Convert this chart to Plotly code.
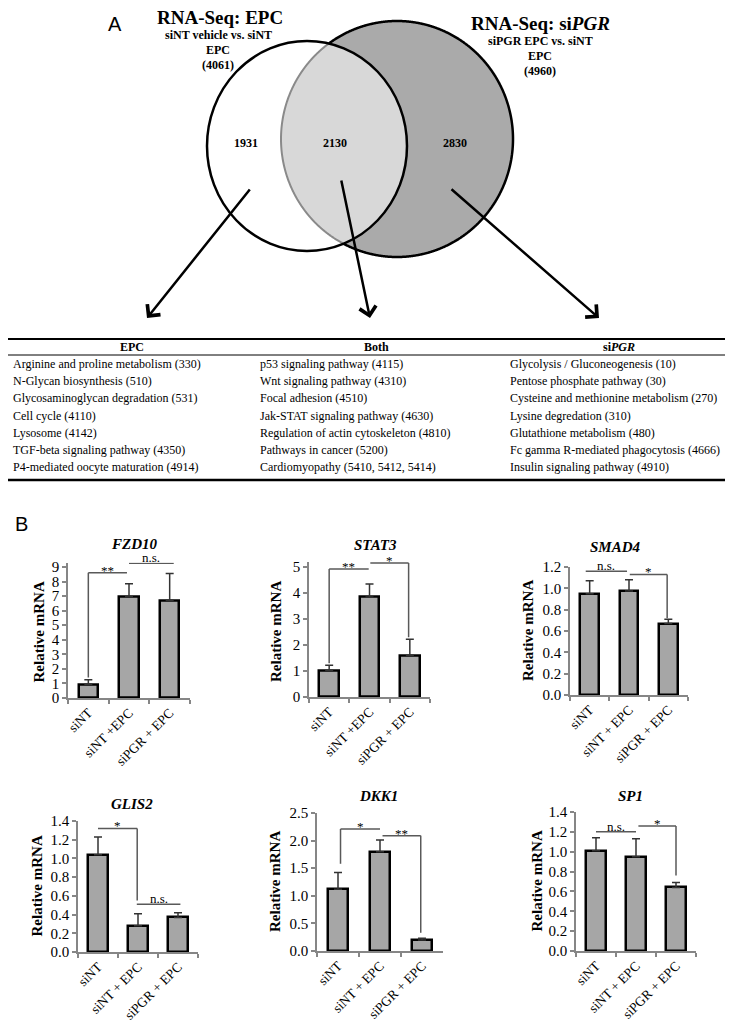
import numpy as np
import plotly.graph_objects as go

W, H = 733, 1021
SERIF = "Liberation Serif, Times New Roman, Times, serif"
SANS = "Liberation Sans, Arial, sans-serif"

# ---------------- data ----------------
venn_labels = ["1931", "2130", "2830"]          # EPC only, both, siPGR only
venn_totals = ["(4061)", "(4960)"]

table_headers = ["<b>EPC</b>", "<b>Both</b>", "<b>si<i>PGR</i></b>"]
pathways_epc = [
    "Arginine and proline metabolism (330)",
    "N-Glycan biosynthesis (510)",
    "Glycosaminoglycan degradation (531)",
    "Cell cycle (4110)",
    "Lysosome (4142)",
    "TGF-beta signaling pathway (4350)",
    "P4-mediated oocyte maturation (4914)",
]
pathways_both = [
    "p53 signaling pathway (4115)",
    "Wnt signaling pathway (4310)",
    "Focal adhesion (4510)",
    "Jak-STAT signaling pathway (4630)",
    "Regulation of actin cytoskeleton (4810)",
    "Pathways in cancer (5200)",
    "Cardiomyopathy (5410, 5412, 5414)",
]
pathways_sipgr = [
    "Glycolysis / Gluconeogenesis (10)",
    "Pentose phosphate pathway (30)",
    "Cysteine and methionine metabolism (270)",
    "Lysine degredation (310)",
    "Glutathione metabolism (480)",
    "Fc gamma R-mediated phagocytosis (4666)",
    "Insulin signaling pathway (4910)",
]

groups_a = ["siNT", "siNT +EPC", "siPGR + EPC"]
groups_b = ["siNT", "siNT + EPC", "siPGR + EPC"]

fzd10_mean = [0.95, 6.95, 6.70]
fzd10_err = [0.30, 0.90, 1.85]
stat3_mean = [1.02, 3.85, 1.60]
stat3_err = [0.20, 0.50, 0.62]
smad4_mean = [0.95, 0.975, 0.67]
smad4_err = [0.12, 0.105, 0.04]
glis2_mean = [1.04, 0.28, 0.37]
glis2_err = [0.19, 0.13, 0.05]
dkk1_mean = [1.12, 1.80, 0.20]
dkk1_err = [0.30, 0.21, 0.03]
sp1_mean = [1.01, 0.95, 0.64]
sp1_err = [0.13, 0.18, 0.05]

# significance brackets: (label, x start, x end, height, left drop to, right drop to)
fzd10_sig = [("**", 0.0, 0.95, 8.6, 1.4, None), ("n.s.", 1.0, 2.1, 9.25, None, None)]
stat3_sig = [("**", 0.0, 0.98, 4.92, 1.3, None), ("*", 1.02, 1.97, 5.15, None, 2.3)]
smad4_sig = [("n.s.", -0.1, 0.95, 1.16, None, None), ("*", 1.02, 1.97, 1.13, None, 0.72)]
glis2_sig = [("*", 0.0, 0.98, 1.32, None, 0.55), ("n.s.", 0.97, 2.06, 0.51, None, None)]
dkk1_sig = [("*", 0.06, 1.0, 2.21, 1.58, None), ("**", 1.06, 1.97, 2.09, None, 0.33)]
sp1_sig = [("n.s.", 0.0, 1.0, 1.20, None, None), ("*", 1.06, 2.0, 1.26, None, 0.76)]


def px(x):
    return x / W


def py(y):
    return 1 - y / H


fig = go.Figure()
shapes = []
ann = []

# ---------------- Venn diagram ----------------
L = dict(cx=299, cy=138, rx=100, ry=105)
R = dict(cx=389, cy=131, rx=116, ry=118)
t = np.linspace(0, 2 * np.pi, 1441)
xr = R["cx"] + R["rx"] * np.cos(t)
yr = R["cy"] + R["ry"] * np.sin(t)
xl = L["cx"] + L["rx"] * np.cos(t)
yl = L["cy"] + L["ry"] * np.sin(t)
r_in_l = ((xr - L["cx"]) / L["rx"]) ** 2 + ((yr - L["cy"]) / L["ry"]) ** 2 < 1
l_in_r = ((xl - R["cx"]) / R["rx"]) ** 2 + ((yl - R["cy"]) / R["ry"]) ** 2 < 1

lx = np.concatenate([xr[r_in_l], xl[l_in_r]])
ly = np.concatenate([yr[r_in_l], yl[l_in_r]])
ang = np.arctan2(ly - ly.mean(), lx - lx.mean())
o = np.argsort(ang)
lx, ly = lx[o], ly[o]


def poly_path(xs, ys, close=False):
    s = "M" + " L".join(f"{px(a):.5f},{py(b):.5f}" for a, b in zip(xs, ys))
    return s + (" Z" if close else "")


def ell_shape(e, **kw):
    return dict(type="circle", xref="paper", yref="paper",
                x0=px(e["cx"] - e["rx"]), x1=px(e["cx"] + e["rx"]),
                y0=py(e["cy"] + e["ry"]), y1=py(e["cy"] - e["ry"]), **kw)


shapes.append(ell_shape(R, fillcolor="#aaaaaa", line=dict(width=0)))
shapes.append(dict(type="path", xref="paper", yref="paper", path=poly_path(lx, ly, True),
                   fillcolor="#d8d8d8", line=dict(width=0)))
idx_in = np.where(r_in_l)[0]
i1, i2 = idx_in[0], idx_in[-1]
outer = poly_path(xr[: i1 + 1], yr[: i1 + 1]) + " " + poly_path(xr[i2:], yr[i2:])
shapes.append(dict(type="path", xref="paper", yref="paper", path=outer,
                   line=dict(color="black", width=2.5)))
shapes.append(dict(type="path", xref="paper", yref="paper",
                   path=poly_path(xr[i1:i2 + 1], yr[i1:i2 + 1]),
                   line=dict(color="#8a8a8a", width=2)))
shapes.append(ell_shape(L, fillcolor="rgba(0,0,0,0)", line=dict(color="black", width=2.5)))


def text(x, y, s, size=12, family=SERIF, xanchor="center", yanchor="middle", **kw):
    ann.append(dict(x=px(x), y=py(y), xref="paper", yref="paper", text=s, showarrow=False,
                    xanchor=xanchor, yanchor=yanchor,
                    font=dict(family=family, size=size, color="black"), **kw))


text(107, 16, "A", size=20, family=SANS)
text(212, 10, "<b>RNA-Seq: EPC</b>", size=19)
text(210, 27, "<b>siNT vehicle vs. siNT</b>", size=12)
text(210, 42, "<b>EPC</b>", size=12)
text(210, 57, "<b>" + venn_totals[0] + "</b>", size=12)
text(532, 16, "<b>RNA-Seq: si<i>PGR</i></b>", size=19)
text(532, 33, "<b>siPGR EPC vs. siNT</b>", size=12)
text(532, 48, "<b>EPC</b>", size=12)
text(532, 63, "<b>" + venn_totals[1] + "</b>", size=12)
for xx, lab in zip([238, 327, 447], venn_labels):
    text(xx, 135, "<b>" + lab + "</b>", size=12)

# arrows (tail -> head)
for (sx, sy), (hx, hy) in [((243, 180), (139, 310)), ((333, 171), (362, 310)), ((442, 180), (591, 310))]:
    ann.append(dict(x=px(hx), y=py(hy), xref="paper", yref="paper", text="", showarrow=True,
                    ax=sx - hx, ay=sy - hy, arrowhead=4, arrowsize=1.3, arrowwidth=2.5,
                    arrowcolor="black", standoff=0))

# ---------------- table ----------------
shapes.append(dict(type="line", xref="paper", yref="paper", x0=0, x1=1, y0=py(331), y1=py(331),
                   line=dict(color="black", width=2.2)))
shapes.append(dict(type="line", xref="paper", yref="paper", x0=0, x1=1, y0=py(347), y1=py(347),
                   line=dict(color="black", width=1)))
shapes.append(dict(type="line", xref="paper", yref="paper", x0=0, x1=1, y0=py(472), y1=py(472),
                   line=dict(color="black", width=2.5)))
for xx, h in zip([124, 368, 611], table_headers):
    text(xx, 339.5, h, size=12)
for col_x, col in zip([3, 250, 500], [pathways_epc, pathways_both, pathways_sipgr]):
    for k, s in enumerate(col):
        text(col_x, 356 + 17.2 * k, s, size=12, xanchor="left")

text(13, 516, "B", size=20, family=SANS)

# ---------------- bar panels ----------------
panels = [
    dict(name="FZD10", cats=groups_a, mean=fzd10_mean, err=fzd10_err, sig=fzd10_sig,
         box=(60, 182, 690, 559), tmax=9, dtick=1, fmt="d", rtop=9.3, title=(126, 536), ylab=30),
    dict(name="STAT3", cats=groups_a, mean=stat3_mean, err=stat3_err, sig=stat3_sig,
         box=(301, 422, 689, 559), tmax=5, dtick=1, fmt="d", rtop=5.2, title=(367, 537), ylab=268),
    dict(name="SMAD4", cats=groups_b, mean=smad4_mean, err=smad4_err, sig=smad4_sig,
         box=(562, 680, 687, 559), tmax=1.2, dtick=0.2, fmt=".1f", rtop=1.2, title=(607, 539), ylab=520),
    dict(name="GLIS2", cats=groups_b, mean=glis2_mean, err=glis2_err, sig=glis2_sig,
         box=(70, 190, 944, 813), tmax=1.4, dtick=0.2, fmt=".1f", rtop=1.4, title=(124, 796), ylab=28),
    dict(name="DKK1", cats=groups_b, mean=dkk1_mean, err=dkk1_err, sig=dkk1_sig,
         box=(309, 435, 943, 805), tmax=2.5, dtick=0.5, fmt=".1f", rtop=2.5, title=(370, 788), ylab=267),
    dict(name="SP1", cats=groups_b, mean=sp1_mean, err=sp1_err, sig=sp1_sig,
         box=(568, 688, 943, 804), tmax=1.4, dtick=0.2, fmt=".1f", rtop=1.4, title=(622, 788), ylab=528),
]

AX_COL = "#868686"
layout_axes = {}
for i, p in enumerate(panels, start=1):
    xn = "x" if i == 1 else f"x{i}"
    yn = "y" if i == 1 else f"y{i}"
    left, right, y0, ymx = p["box"]
    ppu = (y0 - ymx) / p["tmax"]
    ytop = y0 - p["rtop"] * ppu
    fig.add_trace(go.Bar(
        x=p["cats"], y=p["mean"], xaxis=xn, yaxis=yn, width=0.48, showlegend=False,
        marker=dict(color="#a6a6a6", line=dict(color="black", width=2.5)),
        error_y=dict(type="data", symmetric=False, array=p["err"], arrayminus=[0, 0, 0],
                     color="#333333", thickness=1.5, width=4),
    ))
    layout_axes["xaxis" if i == 1 else f"xaxis{i}"] = dict(
        domain=[px(left), px(right)], anchor=yn, type="category", range=[-0.5, 2.5],
        showline=True, linecolor=AX_COL, linewidth=1.5, ticks="outside", ticklen=4,
        tickwidth=1.5, tickcolor=AX_COL, tickson="boundaries", tickangle=-45,
        tickfont=dict(family=SERIF, size=13.5, color="black"), showgrid=False, zeroline=False)
    layout_axes["yaxis" if i == 1 else f"yaxis{i}"] = dict(
        domain=[py(y0), py(ytop)], anchor=xn, range=[0, p["rtop"]], tickmode="linear",
        tick0=0, dtick=p["dtick"], tickformat=p["fmt"], showline=True, linecolor=AX_COL,
        linewidth=1.5, ticks="outside", ticklen=4, tickwidth=1.5, tickcolor=AX_COL,
        tickfont=dict(family=SERIF, size=15, color="black"), showgrid=False, zeroline=False)
    # titles
    text(p["title"][0], p["title"][1], f"<b><i>{p['name']}</i></b>", size=15)
    text(p["ylab"], (y0 + ymx) / 2, "<b>Relative mRNA</b>", size=15, textangle=-90)
    # significance brackets
    for lab, xa, xb, yv, dl, dr in p["sig"]:
        ln = dict(color="#595959", width=1.5)
        shapes.append(dict(type="line", xref=xn, yref=yn, x0=xa, x1=xb, y0=yv, y1=yv, line=ln))
        if dl is not None:
            shapes.append(dict(type="line", xref=xn, yref=yn, x0=xa, x1=xa, y0=yv, y1=dl, line=ln))
        if dr is not None:
            shapes.append(dict(type="line", xref=xn, yref=yn, x0=xb, x1=xb, y0=yv, y1=dr, line=ln))
        ann.append(dict(x=(xa + xb) / 2, y=yv, xref=xn, yref=yn, text=lab, showarrow=False,
                        xanchor="center", yanchor="bottom",
                        yshift=-7 if "*" in lab else -4,
                        font=dict(family=SERIF, size=13, color="black")))

fig.update_layout(
    width=W, height=H, autosize=False, template="none",
    margin=dict(l=0, r=0, t=0, b=0, pad=0),
    paper_bgcolor="white", plot_bgcolor="white", bargap=0,
    shapes=shapes, annotations=ann, showlegend=False,
    **layout_axes,
)
fig.write_html("out.html")
